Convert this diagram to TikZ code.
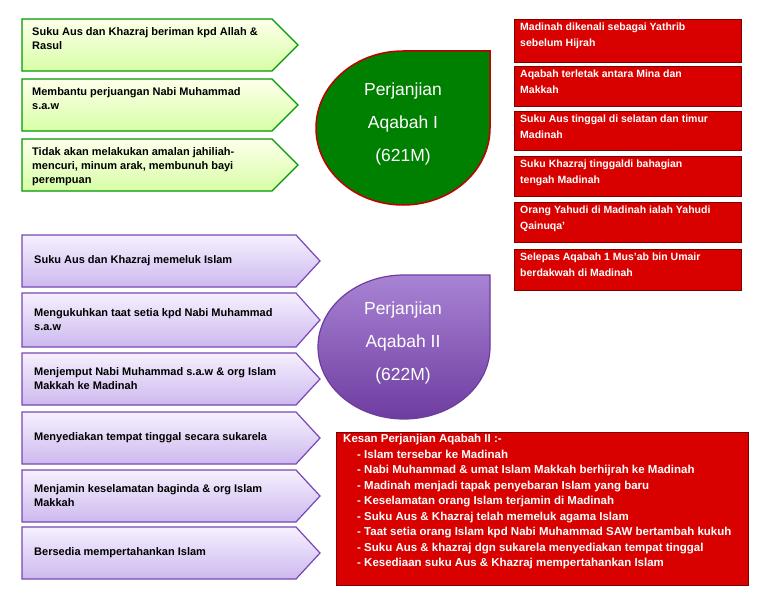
\documentclass[tikz,border=0pt]{standalone}
\usepackage{fontspec}
\setmainfont{Liberation Sans}
\definecolor{pb}{RGB}{120,70,180}
\definecolor{pt}{RGB}{168,132,212}
\definecolor{pbot}{RGB}{110,60,160}
\definecolor{lav1}{RGB}{246,240,255}
\definecolor{lav2}{RGB}{205,185,238}
\begin{document}
\begin{tikzpicture}[x=1pt,y=-1pt,
 gtxt/.style={anchor=north west,align=left,font=\bfseries\fontsize{11}{14}\selectfont,inner sep=0pt},
 rtxt/.style={anchor=north west,align=left,font=\bfseries\fontsize{10.5}{16}\selectfont,text=white,inner sep=0pt},
 garr/.style={draw=green!60!black,line width=1.2pt,top color=green!5!yellow!8,bottom color=green!45!yellow!35},
 parr/.style={draw=pb,line width=1.2pt,top color=lav1,bottom color=lav2},
 rbox/.style={draw=red!50!black,fill=red!85!black,line width=0.6pt},
 ttl/.style={text=white,align=center,font=\fontsize{17.5}{33}\selectfont}]
\useasboundingbox (0,0) rectangle (768,594);
% green arrows
\foreach \y/\t [count=\i] in {19/{Suku Aus dan Khazraj beriman kpd Allah \&\\Rasul},79/{Membantu perjuangan Nabi Muhammad\\s.a.w},139/{Tidak akan melakukan amalan jahiliah-\\mencuri, minum arak, membunuh bayi\\perempuan}}{
 \path[garr] (22,\y) -- (272,\y) -- (298,\y+26) -- (272,\y+52) -- (22,\y+52) -- cycle;
 \node[gtxt] (g\i) at (32,\y+8) {\t};
}
% purple arrows
\foreach \y/\h/\t [count=\i] in {235/52/{Suku Aus dan Khazraj memeluk Islam},293/54/{Mengukuhkan taat setia kpd Nabi Muhammad\\s.a.w},353/52/{Menjemput Nabi Muhammad s.a.w \& org Islam\\Makkah ke Madinah},412/52/{Menyediakan tempat tinggal secara sukarela},470/52/{Menjamin keselamatan baginda \& org Islam\\Makkah},527/52/{Bersedia mempertahankan Islam}}{
 \path[parr] (22,\y) -- (296,\y) -- (320,\y+\h/2) -- (296,\y+\h) -- (22,\y+\h) -- cycle;
 \node[gtxt,anchor=west] (p\i) at (34,\y+\h/2) {\t};
}
% teardrops
\path[draw=red!75!black,line width=1.5pt,fill=green!50!black] (403,51) -- (490,51) -- (490,128) arc[start angle=0,end angle=270,x radius=87,y radius=77] -- cycle;
\node[ttl] (t1) at (403,124) {Perjanjian\\Aqabah I\\(621M)};
\path[draw=pbot,line width=1.2pt,top color=pt,bottom color=pbot] (403,275) -- (490,275) -- (490,347) arc[start angle=0,end angle=270,x radius=86,y radius=72] -- cycle;
\node[ttl] (t2) at (403,343) {Perjanjian\\Aqabah II\\(622M)};
% red boxes
\foreach \a/\b/\t [count=\i] in {19/62/{Madinah dikenali sebagai Yathrib\\sebelum Hijrah},66/106/{Aqabah terletak antara Mina dan\\Makkah},111/150/{Suku Aus tinggal di selatan dan timur\\Madinah},156/196/{Suku Khazraj tinggaldi bahagian\\tengah Madinah},202/242/{Orang Yahudi di Madinah ialah Yahudi\\Qainuqa'},249/290/{Selepas Aqabah 1 Mus'ab bin Umair\\berdakwah di Madinah}}{
 \path[rbox] (514,\a) rectangle (741,\b);
 \node[rtxt] (r\i) at (520,\a+4) {\t};
}
\path[rbox] (336,432) rectangle (748,585);
\node[rtxt,font=\bfseries\fontsize{11.5}{15.5}\selectfont] (k) at (343,434) {Kesan Perjanjian Aqabah II :-\\
\hspace*{14pt}- Islam tersebar ke Madinah\\
\hspace*{14pt}- Nabi Muhammad \& umat Islam Makkah berhijrah ke Madinah\\
\hspace*{14pt}- Madinah menjadi tapak penyebaran Islam yang baru\\
\hspace*{14pt}- Keselamatan orang Islam terjamin di Madinah\\
\hspace*{14pt}- Suku Aus \& Khazraj telah memeluk agama Islam\\
\hspace*{14pt}- Taat setia orang Islam kpd Nabi Muhammad SAW bertambah kukuh\\
\hspace*{14pt}- Suku Aus \& khazraj dgn sukarela menyediakan tempat tinggal\\
\hspace*{14pt}- Kesediaan suku Aus \& Khazraj mempertahankan Islam};
\end{tikzpicture}
\end{document}
